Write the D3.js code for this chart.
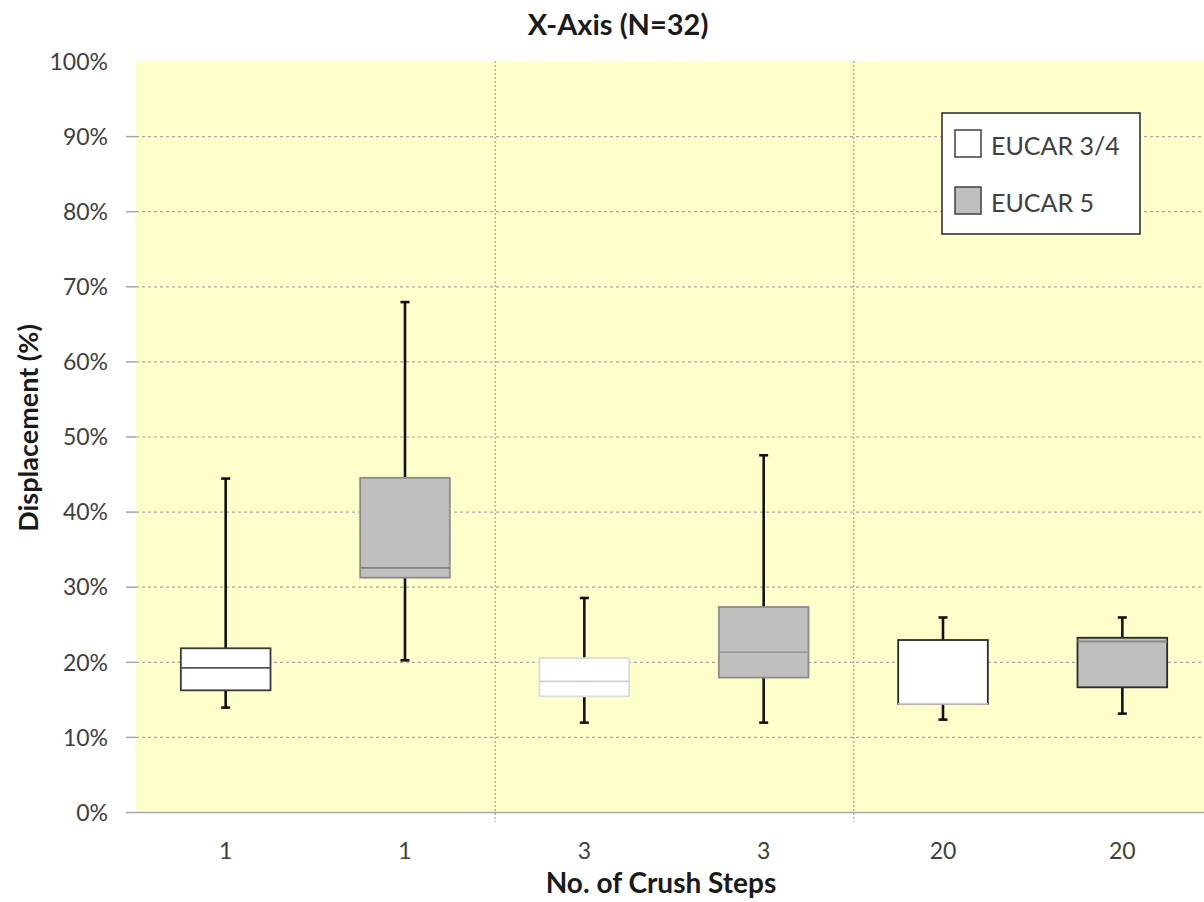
<!DOCTYPE html>
<html><head><meta charset="utf-8">
<script src="https://cdn.jsdelivr.net/npm/d3@7"></script>
<style>
html,body{margin:0;padding:0;background:#fff;}
svg{display:block;font-family:Lato,"Open Sans",sans-serif;}
</style></head>
<body><svg id="c" width="1204" height="902"></svg>
<script>
// ---- data ----
const categoryLabels = ["1","1","3","3","20","20"];
const seriesNames = ["EUCAR 3/4","EUCAR 5","EUCAR 3/4","EUCAR 5","EUCAR 3/4","EUCAR 5"];
const whiskerMin = [0.139,0.202,0.119,0.119,0.123,0.131];
const q1Values   = [0.162,0.312,0.154,0.179,0.144,0.166];
const medians    = [0.192,0.325,0.174,0.213,0.144,0.227];
const q3Values   = [0.218,0.445,0.205,0.273,0.229,0.232];
const whiskerMax = [0.444,0.679,0.285,0.475,0.259,0.259];
const yTicks = [0,0.1,0.2,0.3,0.4,0.5,0.6,0.7,0.8,0.9,1.0];
const legendItems = ["EUCAR 3/4","EUCAR 5"];

// ---- styles (separate from data) ----
const fillBySeries = {"EUCAR 3/4":"#ffffff","EUCAR 5":"#bfbfbf"};
const boxStroke = ["#3a3a3a","#8c8c8c","#dcdcdc","#8c8c8c","#2a2a2a","#2a2a2a"];
const medianStroke = ["#555","#808080","#d0d0d0","#999","#cfcfcf","#8a8a8a"];
const FONT = "Lato, 'Open Sans', sans-serif";

const svg = d3.select("#c");
const W=1204,H=902;
const plot = {left:136,right:1212,top:61,bottom:812};

const x = d3.scaleBand().domain(d3.range(categoryLabels.length)).range([plot.left,plot.right]).padding(0);
const y = d3.scaleLinear().domain([0,1]).range([plot.bottom,plot.top]);

svg.append("rect").attr("x",plot.left).attr("y",plot.top)
  .attr("width",W-plot.left).attr("height",plot.bottom-plot.top).attr("fill","#ffffcc");

// horizontal gridlines
svg.append("g").selectAll("line").data(yTicks.filter(d=>d>0 && d<1)).join("line")
  .attr("x1",plot.left).attr("x2",W).attr("y1",d=>y(d)+0.5).attr("y2",d=>y(d)+0.5)
  .attr("stroke","#a6a6a6").attr("stroke-width",1.2).attr("stroke-dasharray","3,3");
// y tick marks
svg.append("g").selectAll("line").data(yTicks.filter(d=>d>0 && d<1)).join("line")
  .attr("x1",plot.left-10).attr("x2",plot.left).attr("y1",d=>y(d)+0.5).attr("y2",d=>y(d)+0.5)
  .attr("stroke","#a6a6a6").attr("stroke-width",1.5);

// vertical group dividers
const dividers = [2,4];
svg.append("g").selectAll("line").data(dividers).join("line")
  .attr("x1",d=>x(d)+0.5).attr("x2",d=>x(d)+0.5).attr("y1",plot.top).attr("y2",plot.bottom+10)
  .attr("stroke","#8c8c8c").attr("stroke-width",1).attr("stroke-dasharray","2,2");

// x axis line
svg.append("line").attr("x1",plot.left-10).attr("x2",W).attr("y1",plot.bottom+0.5).attr("y2",plot.bottom+0.5)
  .attr("stroke","#a6a6a6").attr("stroke-width",1.5);

// y tick labels
const yAxis = d3.axisLeft(y).tickValues(yTicks).tickFormat(d3.format(".0%")).tickSize(0).tickPadding(0);
const gy = svg.append("g").attr("transform",`translate(${plot.left-28},0)`).call(yAxis);
gy.select(".domain").remove();
gy.selectAll("text").attr("font-size",23).attr("fill","#404040").attr("font-family",FONT).attr("dy","0.36em");

// x tick labels
const xAxis = d3.axisBottom(x).tickFormat(i=>categoryLabels[i]).tickSize(0).tickPadding(0);
const gx = svg.append("g").attr("transform",`translate(0,${plot.bottom+47})`).call(xAxis);
gx.select(".domain").remove();
gx.selectAll("text").attr("font-size",23).attr("fill","#404040").attr("dy","0").attr("y",0).attr("font-family",FONT);

// boxes
const idx = d3.range(categoryLabels.length);
const bw = x.bandwidth()*0.5;
const cx = i => x(i)+x.bandwidth()/2;
const g = svg.append("g");
// whiskers
g.selectAll(".wl").data(idx).join("line").attr("class","wl")
  .attr("x1",cx).attr("x2",cx).attr("y1",i=>y(whiskerMin[i])).attr("y2",i=>y(whiskerMax[i]))
  .attr("stroke","#111").attr("stroke-width",2.6);
g.selectAll(".capT").data(idx).join("line").attr("class","capT")
  .attr("x1",i=>cx(i)-4.5).attr("x2",i=>cx(i)+4.5).attr("y1",i=>y(whiskerMax[i])).attr("y2",i=>y(whiskerMax[i]))
  .attr("stroke","#111").attr("stroke-width",2.6);
g.selectAll(".capB").data(idx).join("line").attr("class","capB")
  .attr("x1",i=>cx(i)-4.5).attr("x2",i=>cx(i)+4.5).attr("y1",i=>y(whiskerMin[i])).attr("y2",i=>y(whiskerMin[i]))
  .attr("stroke","#111").attr("stroke-width",2.6);
// box
g.selectAll(".box").data(idx).join("rect").attr("class","box")
  .attr("x",i=>cx(i)-bw/2).attr("width",bw)
  .attr("y",i=>y(q3Values[i])).attr("height",i=>y(q1Values[i])-y(q3Values[i]))
  .attr("fill",i=>fillBySeries[seriesNames[i]]).attr("stroke",i=>boxStroke[i]).attr("stroke-width",1.8);
// medians
g.selectAll(".med").data(idx).join("line").attr("class","med")
  .attr("x1",i=>cx(i)-bw/2).attr("x2",i=>cx(i)+bw/2).attr("y1",i=>y(medians[i])).attr("y2",i=>y(medians[i]))
  .attr("stroke",i=>medianStroke[i]).attr("stroke-width",1.8);

// title
svg.append("text").attr("x",618).attr("y",35).attr("text-anchor","middle").attr("font-family",FONT)
  .attr("font-size",29).attr("font-weight","bold").attr("fill","#1a1a1a").text("X-Axis (N=32)");
// axis titles
svg.append("text").attr("x",661).attr("y",893).attr("text-anchor","middle").attr("font-family",FONT)
  .attr("font-size",28).attr("font-weight","bold").attr("fill","#1a1a1a").text("No. of Crush Steps");
svg.append("text").attr("transform","translate(38,428) rotate(-90)").attr("text-anchor","middle").attr("font-family",FONT)
  .attr("font-size",27).attr("font-weight","bold").attr("fill","#1a1a1a").text("Displacement (%)");

// legend
const lg = svg.append("g").attr("transform","translate(942,113)");
lg.append("rect").attr("width",198).attr("height",121).attr("fill","#fff").attr("stroke","#262626").attr("stroke-width",1.5);
const li = lg.selectAll(".li").data(legendItems).join("g").attr("class","li")
  .attr("transform",(d,i)=>`translate(13,${17+i*57})`);
li.append("rect").attr("width",26).attr("height",27).attr("fill",d=>fillBySeries[d])
  .attr("stroke","#404040").attr("stroke-width",1.5);
li.append("text").attr("x",36).attr("y",25).attr("font-size",25).attr("font-family",FONT).attr("fill","#404040").text(d=>d);
</script></body></html>
